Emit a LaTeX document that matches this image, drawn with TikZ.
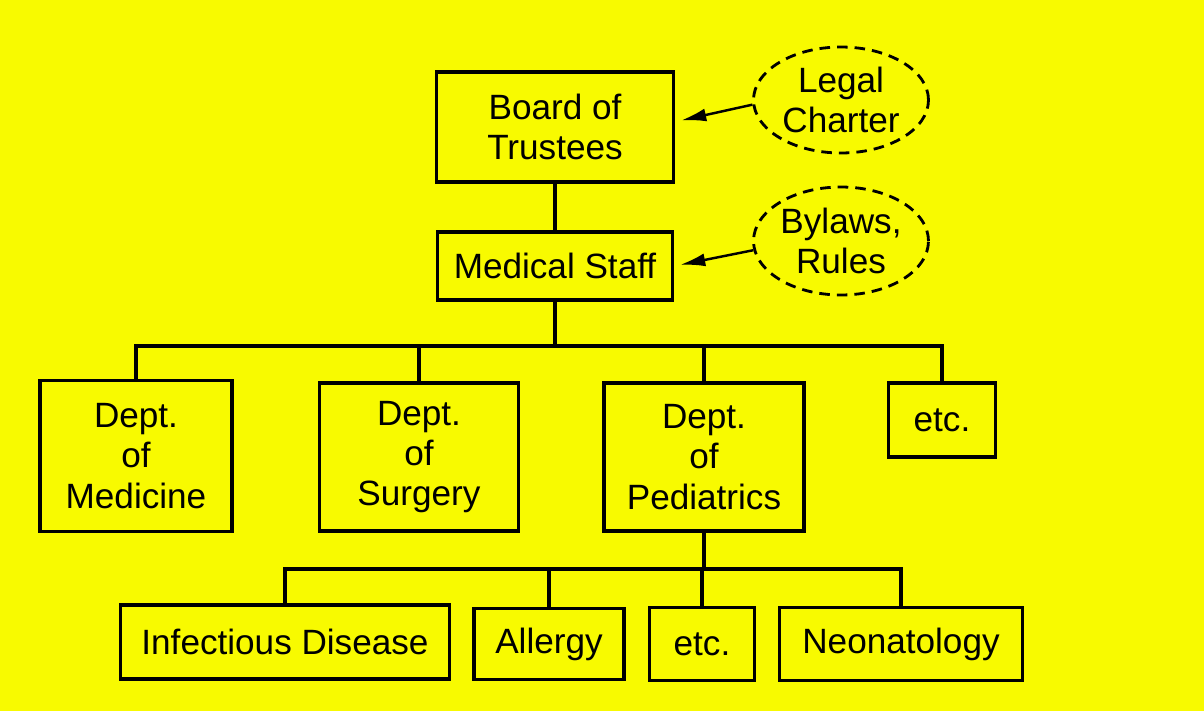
\documentclass[tikz,border=0pt]{standalone}
\usepackage{fontspec}
\setmainfont{Liberation Sans}
\usepackage{xcolor}
\usetikzlibrary{arrows.meta, positioning, shapes.geometric, calc}
\definecolor{pageyellow}{RGB}{248,250,0}

\begin{document}
\begin{tikzpicture}[
x=0.02cm, y=-0.02cm,
font=\fontsize{20}{23}\selectfont,
unit/.style={draw, line width=2pt, inner sep=0pt, align=center},
source/.style={draw, ellipse, line width=1.6pt, dash pattern=on 6pt off 4pt, inner sep=0pt, minimum width=3.5cm, minimum height=2.12cm, align=center},
conn/.style={line width=1.8pt},
arrow/.style={-{Latex[length=5mm, width=2.6mm]}, line width=1.4pt, shorten >=3.5pt}
]
\fill[pageyellow] (0,0) rectangle (1204,711);
\useasboundingbox (0,0) rectangle (1204,711);

% top of the chart
\node[unit, minimum width=4.74cm, minimum height=2.2cm] (board) at (555,127) {Board of\\Trustees};
\node[unit, minimum width=4.7cm, minimum height=1.36cm] (staff) at (555,266) {Medical Staff};
\node[source] (legal) at (841,100) {Legal\\Charter};
\node[source, minimum height=2.16cm] (bylaws) at (841,241) {Bylaws,\\Rules};

% departments
\node[unit, minimum width=3.84cm, minimum height=3.02cm] (medicine) at (136,456) {Dept.\\of\\Medicine};
\node[unit, minimum width=3.98cm, minimum height=2.96cm] (surgery) at (419,457) {Dept.\\of\\Surgery};
\node[unit, minimum width=4cm, minimum height=2.96cm] (pediatrics) at (704,457) {Dept.\\of\\Pediatrics};
\node[unit, minimum width=2.14cm, minimum height=1.48cm] (deptetc) at (942,420) {etc.};

% sections of pediatrics
\node[unit, minimum width=6.58cm, minimum height=1.48cm] (infectious) at (285,642) {Infectious Disease};
\node[unit, minimum width=3cm, minimum height=1.42cm] (allergy) at (549,644) {Allergy};
\node[unit, minimum width=2.1cm, minimum height=1.46cm] (secetc) at (702,644) {etc.};
\node[unit, minimum width=4.86cm, minimum height=1.46cm] (neonatology) at (901,644) {Neonatology};

\coordinate (deptbus) at (555,346);
\coordinate (secbus) at (704,569);

\draw[conn] (board) -- (staff);
\draw[conn] (staff.south) -- (deptbus);
\foreach \d in {medicine, surgery, pediatrics, deptetc}
  \draw[conn] (deptbus) -| (\d.north);
\draw[conn] (pediatrics.south) -- (secbus);
\foreach \s in {infectious, allergy, secetc, neonatology}
  \draw[conn] (secbus) -| (\s.north);

\draw[arrow] (legal.183) -- ([yshift=3pt]board.east);
\draw[arrow] (bylaws.186) -- (staff.east);
\end{tikzpicture}
\end{document}
